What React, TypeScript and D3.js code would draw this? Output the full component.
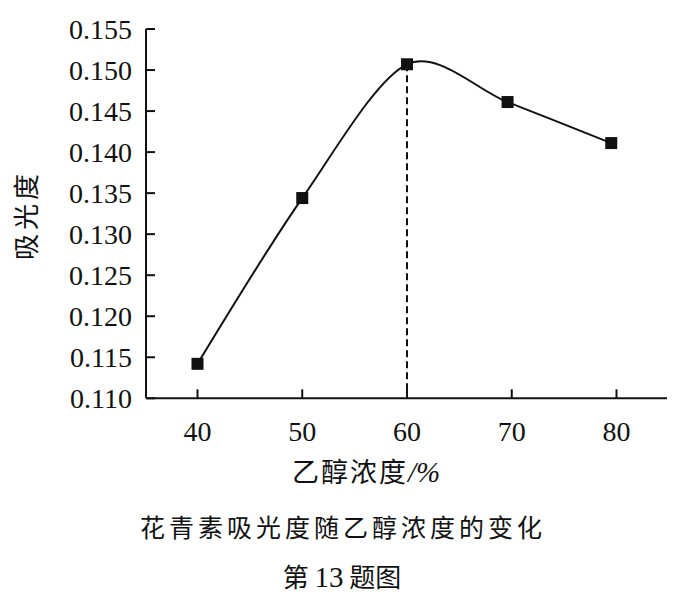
import React from "react";
import * as d3 from "d3";

const concentrations = [40, 50, 60, 69.6, 79.5];
const absorbance = [0.1142, 0.1344, 0.1507, 0.1461, 0.1411];
const xTicks = [40, 50, 60, 70, 80];
const yTicks = [0.11, 0.115, 0.12, 0.125, 0.13, 0.135, 0.14, 0.145, 0.15, 0.155];
const yLabel = "吸光度";
const xLabel = "乙醇浓度";
const xUnit = "/%";
const caption = "花青素吸光度随乙醇浓度的变化";
const figNo = ["第 ", "13", " 题图"];
const peakX = 60;

const serif = "'Liberation Serif', serif";
const cjk = "'Noto Sans CJK SC', sans-serif";

export default function App() {
  const x = d3.scaleLinear().domain([40, 80]).range([197.5, 616.5]);
  const y = d3.scaleLinear().domain([0.11, 0.155]).range([398.3, 29]);
  const axisLeft = 146;
  const axisRight = 667;
  const data = concentrations.map((c, i) => [c, absorbance[i]] as [number, number]);
  const line = d3
    .line<[number, number]>()
    .x((d) => x(d[0]))
    .y((d) => y(d[1]))
    .curve(d3.curveCardinal.tension(0.1));
  const peakIdx = concentrations.indexOf(peakX);
  const sq = 12;
  return (
    <svg
      width={675}
      height={600}
      style={{ position: "absolute", left: 0, top: 0, background: "#fff" }}
    >
      <rect width={675} height={600} fill="#fff" />
      <line x1={axisLeft} x2={axisLeft} y1={y(0.155)} y2={y(0.11)} stroke="#111" strokeWidth={2} />
      <line x1={axisLeft} x2={axisRight} y1={y(0.11)} y2={y(0.11)} stroke="#111" strokeWidth={2} />
      {yTicks.map((t) => (
        <g key={t}>
          <line x1={axisLeft} x2={axisLeft + 9} y1={y(t)} y2={y(t)} stroke="#111" strokeWidth={2} />
          <text
            x={axisLeft - 14}
            y={y(t)}
            dy="0.34em"
            textAnchor="end"
            fontFamily={serif}
            fontSize={28}
            fill="#111"
          >
            {d3.format(".3f")(t)}
          </text>
        </g>
      ))}
      {xTicks.map((t) => (
        <g key={t}>
          <line x1={x(t)} x2={x(t)} y1={y(0.11)} y2={y(0.11) - 9} stroke="#111" strokeWidth={2} />
          <text
            x={x(t)}
            y={441}
            textAnchor="middle"
            fontFamily={serif}
            fontSize={28}
            fill="#111"
          >
            {t}
          </text>
        </g>
      ))}
      <line
        x1={x(peakX)}
        x2={x(peakX)}
        y1={y(absorbance[peakIdx])}
        y2={y(0.11)}
        stroke="#111"
        strokeWidth={2}
        strokeDasharray="7 4"
      />
      <path d={line(data) || ""} fill="none" stroke="#111" strokeWidth={2} />
      {data.map((d, i) => (
        <rect
          key={i}
          x={x(d[0]) - sq / 2}
          y={y(d[1]) - sq / 2}
          width={sq}
          height={sq}
          fill="#111"
        />
      ))}
      <text
        transform={`translate(36,215) rotate(-90)`}
        textAnchor="middle"
        fontFamily={cjk}
        fontSize={26}
        letterSpacing={4}
        fill="#111"
      >
        {yLabel}
      </text>
      <text x={366} y={482} textAnchor="middle" fill="#111" fontFamily={cjk} fontSize={27}>
        <tspan letterSpacing={2}>{xLabel}</tspan>
        <tspan fontFamily={serif} fontStyle="italic" fontSize={29}>{xUnit}</tspan>
      </text>
      <text x={343} y={537} textAnchor="middle" fill="#111" fontFamily={cjk} fontSize={25} letterSpacing={4}>
        {caption}
      </text>
      <text x={342} y={587} textAnchor="middle" fill="#111" fontFamily={cjk} fontSize={26}>
        <tspan>{figNo[0]}</tspan>
        <tspan fontFamily={serif} fontSize={29}>{figNo[1]}</tspan>
        <tspan>{figNo[2]}</tspan>
      </text>
    </svg>
  );
}
